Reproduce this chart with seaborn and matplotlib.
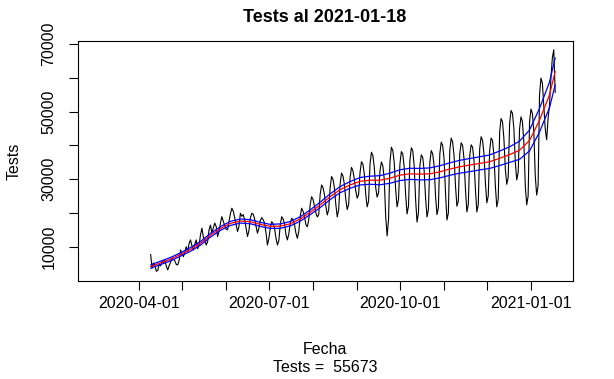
import pandas as pd
import numpy as np
import matplotlib
matplotlib.use("Agg")
import matplotlib.pyplot as plt
import seaborn as sns

# ----- daily tests (from 2020-04-09), one row per week -----
tests = [
    7700, 3600, 5200, 4400, 2700, 3000, 4800,
    4300, 5600, 5100, 6000, 4200, 3100, 4400,
    5400, 6600, 6200, 5800, 4700, 4600, 5900,
    9000, 7800, 7000, 8400, 10000, 8600, 11000,
    12000, 10200, 9000, 10800, 12000, 9400, 10500,
    13500, 15500, 12800, 12000, 10500, 11500, 15000,
    16400, 14000, 15600, 17000, 16000, 13000, 14500,
    17000, 18900, 17600, 16200, 15200, 15000, 17500,
    19800, 21400, 20500, 18600, 16500, 14500, 16000,
    19900, 19000, 19500, 18000, 15500, 13000, 14800,
    18500, 19900, 19600, 18200, 16000, 14000, 15500,
    17800, 18600, 18000, 17000, 14000, 10500, 12500,
    15500, 17400, 16800, 15400, 12500, 10500, 11800,
    16500, 18900, 18200, 16800, 13500, 12000, 13800,
    17000, 18400, 18000, 16500, 14000, 12500, 14500,
    19000, 21400, 20500, 19000, 16500, 15900, 18000,
    22500, 24800, 24000, 22000, 20000, 18800, 19500,
    25500, 28300, 27500, 25500, 22000, 19400, 21000,
    27500, 30800, 30000, 27500, 22500, 18800, 21000,
    28500, 31800, 31000, 28500, 24000, 21000, 22500,
    30500, 33500, 32500, 30000, 26500, 24400, 25500,
    32000, 35200, 34500, 31500, 25500, 21800, 23500,
    34500, 38000, 37000, 33500, 27500, 24700, 26000,
    32500, 35100, 34000, 30000, 19000, 13200, 18000,
    35000, 39500, 38500, 35000, 27000, 21800, 24000,
    34500, 38200, 37500, 33500, 25500, 19700, 22000,
    35500, 39300, 38500, 34000, 24000, 17300, 20000,
    34000, 37200, 36500, 32500, 24500, 18800, 21000,
    35000, 38500, 37500, 34000, 25000, 19500, 21500,
    37500, 41000, 40000, 36000, 26000, 17900, 20000,
    38500, 42200, 41000, 37000, 28000, 22000, 23500,
    37500, 40800, 40000, 36000, 27000, 20300, 22500,
    37000, 40200, 39500, 35500, 27000, 20300, 22500,
    39000, 42600, 41500, 37500, 29000, 23000, 25000,
    38500, 42200, 41500, 37000, 28000, 21800, 24000,
    44000, 48000, 47000, 42000, 33000, 28500, 30500,
    46500, 50400, 49500, 45000, 35000, 29800, 32000,
    45000, 48500, 47000, 41000, 28000, 22400, 25000,
    47000, 50800, 49500, 44000, 31000, 25300, 28000,
    55000, 60000, 58500, 52000, 45000, 41700, 48000,
    52000, 60000, 66000, 68400, 55673,
]

# ----- smoothed trend and band, one knot per week -----
trend = [4100, 5200, 6300, 7700, 9200, 11000, 13400, 15400, 16900, 17600,
         17400, 16600, 16000, 16100, 16800, 18200, 20200, 22400, 24800, 26900,
         28300, 29400, 29700, 29700, 30300, 31200, 31600, 31500, 31600, 32200,
         33000, 33700, 34200, 34700, 35200, 36200, 37300, 38600, 41500, 47500,
         55000, 62000]
upper = [4600, 5700, 6800, 8200, 9750, 11550, 13950, 15950, 17500, 18200,
         18000, 17200, 16600, 16750, 17450, 18850, 20900, 23200, 25650, 27800,
         29300, 30500, 30900, 31050, 31800, 32800, 33250, 33200, 33350, 34000,
         34850, 35600, 36150, 36650, 37200, 38350, 39600, 41300, 44600, 51000,
         58800, 66000]
lower = [3600, 4700, 5800, 7200, 8650, 10450, 12850, 14850, 16300, 17000,
         16800, 16000, 15400, 15450, 16150, 17550, 19500, 21600, 23950, 26000,
         27300, 28300, 28500, 28350, 28800, 29600, 29950, 29800, 29850, 30400,
         31150, 31800, 32250, 32750, 33200, 34050, 35000, 35900, 38400, 44000,
         51200, 58000]

last_date = "2021-01-18"
dates = pd.date_range("2020-04-09", last_date, freq="D")
knots = pd.date_range("2020-04-09", periods=41, freq="7D").append(pd.DatetimeIndex([last_date]))

sns.set_style("white")
plt.rcParams["font.family"] = ["Liberation Sans", "DejaVu Sans"]
plt.rcParams["text.color"] = "black"
plt.rcParams["xtick.color"] = "black"
plt.rcParams["ytick.color"] = "black"

fig = plt.figure(figsize=(6.14, 3.79), dpi=100)
ax = fig.add_axes([78 / 614, 1 - 281 / 379, 495 / 614, 240 / 379])

sns.lineplot(x=dates, y=tests, color="black", lw=0.8, ax=ax)
sns.lineplot(x=knots, y=trend, color="red", lw=0.9, ax=ax)
sns.lineplot(x=knots, y=upper, color="blue", lw=0.9, ax=ax)
sns.lineplot(x=knots, y=lower, color="blue", lw=0.9, ax=ax)

ax.set_xlim(pd.Timestamp("2020-02-18"), pd.Timestamp("2021-01-30 12:00"))
ax.set_ylim(-180, 70980)

# ticks every month, labels every three months (R style)
month_ticks = pd.date_range("2020-04-01", "2021-01-01", freq="MS")
ax.set_xticks(month_ticks)
ax.set_xticklabels([d.strftime("%Y-%m-%d") if d.month in (1, 4, 7, 10) else "" for d in month_ticks])
yt = np.arange(10000, 70001, 10000)
ax.set_yticks(yt)
ax.set_yticklabels([str(v) if (v // 10000) % 2 == 1 else "" for v in yt], rotation=90, va="center")

ax.tick_params(axis="x", direction="out", length=6.5, width=0.8, pad=4, labelsize=11.5,
               color="black", labelcolor="black")
ax.tick_params(axis="y", direction="out", length=6.5, width=0.8, pad=9, labelsize=11.5,
               color="black", labelcolor="black")
ax.tick_params(bottom=True, left=True)
for s in ax.spines.values():
    s.set_visible(True)
    s.set_color("black")
    s.set_linewidth(0.8)

ax.set_xlabel("")
ax.set_ylabel("")
fig.text(14 / 614, 1 - 161 / 379, "Tests", rotation=90, ha="center", va="center", fontsize=11.5, color="black")
fig.text(325 / 614, 1 - 349 / 379, "Fecha", ha="center", va="center", fontsize=11.5, color="black")
fig.text(325 / 614, 1 - 368 / 379, "Tests =  " + str(tests[-1]), ha="center", va="center",
         fontsize=11.5, color="black")
fig.text(325 / 614, 1 - 18 / 379, "Tests al " + last_date, ha="center", va="center",
         fontsize=13, fontweight="bold", color="black")

fig.savefig("out.png", dpi=100)
